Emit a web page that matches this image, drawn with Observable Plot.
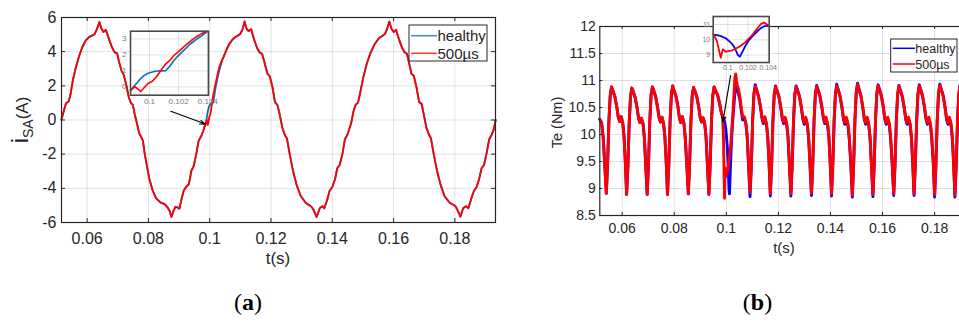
<!DOCTYPE html>
<html><head><meta charset="utf-8">
<script src="https://cdn.jsdelivr.net/npm/d3@7"></script>
<script src="https://cdn.jsdelivr.net/npm/@observablehq/plot@0.6"></script>
<style>
html,body{margin:0;padding:0;background:#fff;}
#wrap{position:relative;width:959px;height:322px;overflow:hidden;}
#wrap svg{position:absolute;}
</style></head><body><div id="wrap"></div>
<script>
// ---------- Panel (a): stator current i_SA (A) ----------
const iaTimeP1 = [0.0516,0.0524,0.0531,0.0540,0.0546,0.0553,0.0562,0.0573,0.0584,0.0595,0.0605,0.0616,0.0625,0.0632,0.0640,0.0646,0.0653,0.0661,0.0671,0.0681,0.0690,0.0698,0.0703,0.0712,0.0719,0.0727,0.0736,0.0743,0.0749,0.0755,0.0763,0.0770,0.0776,0.0782,0.0788,0.0796,0.0803,0.0814,0.0825,0.0839,0.0853,0.0861,0.0869,0.0875,0.0882,0.0888,0.0895,0.0901,0.0908,0.0915,0.0924,0.0932,0.0940,0.0948,0.0956,0.0964,0.0973,0.0979,0.0983];
const iaP1 = [0,0.55,0.98,1.09,1.52,2.3,3.0,3.7,4.26,4.65,4.84,4.94,5.04,5.33,5.74,5.37,5.15,5.28,4.75,4.26,3.96,3.9,3.48,2.89,2.66,2.11,1.33,0.98,0.9,0.35,-0.23,-0.78,-0.98,-1.21,-2.0,-2.77,-3.46,-4.14,-4.59,-4.82,-4.92,-5.08,-5.31,-5.68,-5.31,-5.08,-5.12,-5.2,-4.63,-4.14,-3.9,-3.75,-2.97,-2.68,-2.0,-1.21,-0.92,-0.63,-0.4];
const iaTimeWin = [0.0987,0.0990,0.0993,0.0994,0.0996,0.0999,0.1002,0.1005,0.1008,0.1011,0.1014,0.1017,0.1020,0.1024,0.1028,0.1032,0.1036,0.1040];
const iaHealthyWin = [-0.23,0.1,0.42,0.52,0.69,0.85,0.93,0.99,1.0,1.01,1.3,1.68,1.97,2.33,2.68,2.96,3.2,3.48];
const iaFaultWin = [-0.23,0.02,-0.2,-0.29,-0.09,0.21,0.35,0.65,1.05,1.42,1.66,1.98,2.2,2.55,2.85,3.13,3.33,3.5];
const iaTimeP2 = [0.1046,0.1053,0.1063,0.1075,0.1084,0.1091,0.1100,0.1107,0.1114,0.1120,0.1127,0.1135,0.1145,0.1155,0.1163,0.1171,0.1178,0.1188,0.1196,0.1205,0.1213,0.1221,0.1228,0.1237,0.1246,0.1252,0.1261,0.1272,0.1283,0.1297,0.1313,0.1326,0.1333,0.1340,0.1349,0.1359,0.1368,0.1374,0.1384,0.1391,0.1400,0.1409,0.1416,0.1424,0.1433,0.1441,0.1449,0.1457];
const iaP2 = [3.72,4.04,4.42,4.73,4.86,4.93,5.05,5.3,5.77,5.35,5.2,5.32,4.7,4.2,3.95,3.86,3.42,2.72,2.56,1.9,1.05,0.88,0.35,-0.45,-0.92,-1.07,-2.0,-2.99,-3.77,-4.45,-4.84,-5.0,-5.1,-5.3,-5.68,-5.17,-5.04,-5.17,-4.64,-4.16,-3.92,-3.47,-2.83,-2.63,-2.0,-1.13,-0.88,-0.45];
const iaTimeP3 = [0.1462,0.1469,0.1476,0.1484,0.1490,0.1501,0.1512,0.1525,0.1538,0.1552,0.1563,0.1572,0.1579,0.1586,0.1593,0.1600,0.1608,0.1617,0.1627,0.1636,0.1644,0.1651,0.1658,0.1666,0.1675,0.1683,0.1692,0.1698,0.1707,0.1716,0.1722,0.1731,0.1742,0.1753,0.1766,0.1783,0.1796,0.1802,0.1809,0.1818,0.1827,0.1836,0.1844,0.1853,0.1862,0.1871,0.1879,0.1887,0.1895,0.1903,0.1912,0.1920,0.1927,0.1933];
const iaP3 = [-0.15,0.5,0.88,1.02,1.5,2.48,3.26,3.95,4.43,4.79,4.92,5.04,5.33,5.76,5.35,5.15,5.28,4.75,4.26,3.96,3.86,3.3,2.72,2.58,1.9,1.07,0.92,0.37,-0.45,-0.88,-1.07,-2.0,-2.99,-3.77,-4.45,-4.84,-4.98,-5.04,-5.29,-5.66,-5.17,-5.04,-5.17,-4.64,-4.16,-3.92,-3.47,-2.83,-2.63,-2.0,-1.13,-0.88,-0.55,0.0];

const xTicksA = [0.06,0.08,0.1,0.12,0.14,0.16,0.18];
const xTickLabelsA = ["0.06","0.08","0.1","0.12","0.14","0.16","0.18"];
const yTicksA = [-6,-4,-2,0,2,4,6];
const yTickLabelsA = ["-6","-4","-2","0","2","4","6"];
const insetTicksXA = [0.1,0.102,0.104];
const insetTickLabelsXA = ["0.1","0.102","0.104"];
const insetTicksYA = [0,1,2,3];
const arrowA = [{x1: 0.0873, y1: 0.51, x2: 0.0986, y2: -0.24}];

// ---------- Panel (b): electromagnetic torque Te (Nm) ----------
const teTimePre = [0.0514,0.0521,0.0527,0.0533];
const tePre = [10.28,10.22,9.95,9.45];
const teTimeCyclesPre = [
  [0.0539,0.0544,0.0549,0.0554,0.0559,0.0565,0.0572,0.0579,0.0585,0.0590,0.0596,0.0602,0.0607,0.0612],
  [0.0617,0.0622,0.0627,0.0632,0.0637,0.0643,0.0650,0.0657,0.0663,0.0668,0.0674,0.0680,0.0685,0.0690],
  [0.0696,0.0701,0.0706,0.0711,0.0716,0.0722,0.0729,0.0736,0.0742,0.0747,0.0753,0.0759,0.0764,0.0769],
  [0.0774,0.0779,0.0784,0.0789,0.0794,0.0800,0.0807,0.0814,0.0820,0.0825,0.0831,0.0837,0.0842,0.0848],
  [0.0854,0.0859,0.0864,0.0869,0.0874,0.0880,0.0887,0.0894,0.0900,0.0905,0.0911,0.0917,0.0922,0.0927],
  [0.0933,0.0938,0.0943,0.0948,0.0953,0.0959,0.0966,0.0973,0.0979,0.0983]
];
const teCyclesPre = [
  [8.91,9.45,10.25,10.72,10.88,10.8,10.7,10.52,10.32,10.24,10.33,10.22,9.97,9.5],
  [8.89,9.42,10.22,10.7,10.86,10.79,10.68,10.5,10.3,10.22,10.3,10.2,9.95,9.48],
  [8.89,9.44,10.24,10.73,10.88,10.8,10.69,10.5,10.31,10.23,10.32,10.2,9.96,9.5],
  [8.89,9.43,10.25,10.74,10.9,10.8,10.7,10.52,10.3,10.22,10.33,10.21,9.95,9.46],
  [8.9,9.45,10.24,10.72,10.87,10.79,10.69,10.51,10.3,10.23,10.31,10.2,9.96,9.48],
  [8.89,9.44,10.25,10.72,10.88,10.81,10.74,10.6,10.44,10.37]
];
const teTimeWin = [0.0986,0.0989,0.0991,0.0993,0.0995,0.0998,0.1001,0.1004,0.1007,0.1010,0.1012,0.1015,0.1018,0.1021,0.1024,0.1027,0.1030,0.1033,0.1036,0.1039,0.1042,0.1046,0.1052,0.1058,0.1063,0.1069,0.1075,0.1080,0.1085];
const teHealthyWin = [10.33,10.3,10.28,10.24,10.18,10.1,9.93,9.75,9.45,9.0,8.9,9.3,9.68,9.98,10.2,10.4,10.6,10.78,10.88,10.92,10.84,10.76,10.65,10.42,10.27,10.3,10.2,9.96,9.45];
const teFaultWin = [10.33,9.95,9.4,8.82,9.38,9.22,9.28,9.3,9.4,9.5,9.58,9.72,9.88,10.1,10.3,10.55,10.8,11.05,11.12,11.0,10.92,10.85,10.7,10.48,10.32,10.33,10.22,9.98,9.55];
const teTimeCyclesPost = [
  [0.1091,0.1096,0.1101,0.1106,0.1111,0.1117,0.1124,0.1131,0.1137,0.1142,0.1148,0.1154,0.1159,0.1164],
  [0.1169,0.1174,0.1179,0.1184,0.1189,0.1195,0.1202,0.1209,0.1215,0.1220,0.1226,0.1232,0.1237,0.1242],
  [0.1248,0.1253,0.1258,0.1263,0.1268,0.1274,0.1281,0.1288,0.1294,0.1299,0.1305,0.1311,0.1316,0.1321],
  [0.1327,0.1332,0.1337,0.1342,0.1347,0.1353,0.1360,0.1367,0.1373,0.1378,0.1383,0.1389,0.1394,0.1399],
  [0.1404,0.1409,0.1414,0.1419,0.1424,0.1430,0.1437,0.1444,0.1450,0.1455,0.1461,0.1467,0.1472,0.1478],
  [0.1484,0.1489,0.1494,0.1499,0.1504,0.1510,0.1517,0.1524,0.1530,0.1535,0.1541,0.1547,0.1552,0.1557],
  [0.1563,0.1568,0.1573,0.1578,0.1583,0.1589,0.1596,0.1603,0.1609,0.1614,0.1620,0.1626,0.1631,0.1637],
  [0.1643,0.1648,0.1653,0.1658,0.1663,0.1669,0.1676,0.1683,0.1689,0.1694,0.1700,0.1706,0.1711,0.1716],
  [0.1721,0.1726,0.1731,0.1736,0.1741,0.1747,0.1754,0.1761,0.1767,0.1772,0.1778,0.1784,0.1789,0.1795],
  [0.1800,0.1805,0.1810,0.1815,0.1820,0.1826,0.1833,0.1840,0.1846,0.1851,0.1857,0.1863,0.1868,0.1873],
  [0.1878,0.1883,0.1888,0.1893,0.1898,0.1904,0.1911,0.1918,0.1924,0.1929,0.1934]
];
const teHealthyPost = [
  [8.85,9.4,10.24,10.75,10.92,10.82,10.7,10.52,10.3,10.2,10.3,10.19,9.95,9.48],
  [8.86,9.42,10.25,10.74,10.9,10.81,10.7,10.5,10.29,10.2,10.3,10.18,9.94,9.46],
  [8.86,9.42,10.24,10.74,10.9,10.82,10.71,10.5,10.28,10.19,10.29,10.18,9.94,9.47],
  [8.87,9.43,10.25,10.75,10.91,10.82,10.7,10.5,10.29,10.2,10.3,10.18,9.94,9.46],
  [8.86,9.42,10.24,10.75,10.93,10.83,10.71,10.5,10.28,10.19,10.29,10.18,9.93,9.45],
  [8.84,9.42,10.26,10.78,10.95,10.84,10.72,10.5,10.28,10.19,10.3,10.18,9.93,9.45],
  [8.85,9.42,10.25,10.76,10.92,10.83,10.71,10.5,10.28,10.19,10.29,10.18,9.93,9.45],
  [8.87,9.43,10.25,10.75,10.91,10.82,10.7,10.5,10.28,10.19,10.29,10.18,9.93,9.45],
  [8.87,9.43,10.25,10.75,10.92,10.83,10.71,10.5,10.28,10.19,10.29,10.18,9.93,9.45],
  [8.84,9.42,10.25,10.76,10.93,10.84,10.72,10.5,10.28,10.19,10.29,10.18,9.93,9.45],
  [8.84,9.42,10.25,10.76,10.92,10.83,10.71,10.5,10.28,10.19,10.29]
];
const teFaultPost = [
  [8.93,9.45,10.25,10.74,10.89,10.8,10.7,10.52,10.32,10.23,10.33,10.21,9.97,9.5],
  [8.9,9.45,10.26,10.73,10.88,10.8,10.7,10.52,10.31,10.23,10.32,10.2,9.96,9.5],
  [8.9,9.46,10.25,10.73,10.88,10.8,10.7,10.52,10.31,10.22,10.32,10.2,9.96,9.5],
  [8.91,9.46,10.26,10.74,10.89,10.8,10.7,10.52,10.31,10.23,10.32,10.2,9.96,9.5],
  [8.9,9.45,10.25,10.74,10.9,10.81,10.7,10.52,10.31,10.22,10.32,10.2,9.96,9.5],
  [8.88,9.45,10.27,10.77,10.93,10.82,10.71,10.52,10.3,10.22,10.32,10.2,9.96,9.5],
  [8.89,9.45,10.26,10.75,10.9,10.81,10.7,10.52,10.3,10.22,10.32,10.2,9.96,9.5],
  [8.9,9.46,10.26,10.74,10.89,10.8,10.7,10.52,10.3,10.22,10.32,10.2,9.96,9.5],
  [8.9,9.46,10.26,10.74,10.9,10.81,10.7,10.52,10.3,10.22,10.32,10.2,9.96,9.5],
  [8.88,9.45,10.26,10.75,10.91,10.82,10.71,10.52,10.3,10.22,10.32,10.2,9.96,9.5],
  [8.88,9.45,10.26,10.75,10.9,10.81,10.7,10.52,10.3,10.22,10.32]
];

const xTicksB = [0.06,0.08,0.1,0.12,0.14,0.16,0.18];
const xTickLabelsB = ["0.06","0.08","0.1","0.12","0.14","0.16","0.18"];
const yTicksB = [8.5,9,9.5,10,10.5,11,11.5,12];
const yTickLabelsB = ["8.5","9","9.5","10","10.5","11","11.5","12"];
const insetTicksXB = [0.1,0.102,0.104];
const insetTickLabelsXB = ["0.1","0.102","0.104"];
const insetTicksYB = [9,10,11];
const arrowB = [{x1: 0.10162, y1: 11.09, x2: 0.09866, y2: 10.23}];

const seriesNames = ["healthy", "500\u00b5s"];

// ---------- build tables ----------
const zip = (ts, vs) => ts.map((t, k) => ({t, v: vs[k]}));
const iaHealthy = zip([...iaTimeP1, ...iaTimeWin, ...iaTimeP2, ...iaTimeP3], [...iaP1, ...iaHealthyWin, ...iaP2, ...iaP3]);
const iaFault = zip([...iaTimeP1, ...iaTimeWin, ...iaTimeP2, ...iaTimeP3], [...iaP1, ...iaFaultWin, ...iaP2, ...iaP3]);
const teTimeAll = [...teTimePre, ...teTimeCyclesPre.flat(), ...teTimeWin, ...teTimeCyclesPost.flat()];
const teHealthy = zip(teTimeAll, [...tePre, ...teCyclesPre.flat(), ...teHealthyWin, ...teHealthyPost.flat()]);
const teFault = zip(teTimeAll, [...tePre, ...teCyclesPre.flat(), ...teFaultWin, ...teFaultPost.flat()]);

const FONT = "'Liberation Sans', Arial, Helvetica, sans-serif";
const INK = "#262626";
const GRID = {stroke: "#000", strokeOpacity: 0.12, strokeWidth: 1};
const BLUE_A = "#0072BD", BLUE_B = "#0000FF", RED = "#FF0000";
const lab = (ticks, labels) => d => labels[ticks.indexOf(d)];
const wrap = document.getElementById("wrap");
function place(svg, left, top) { svg.style.left = left + "px"; svg.style.top = top + "px"; wrap.appendChild(svg); return svg; }

function inwardTicks(xt, yt, pw, ph, len) {
  return [
    Plot.ruleX(xt, {stroke: INK, insetTop: ph - len}),
    Plot.ruleX(xt, {stroke: INK, insetBottom: ph - len}),
    Plot.ruleY(yt, {stroke: INK, insetRight: pw - len}),
    Plot.ruleY(yt, {stroke: INK, insetLeft: pw - len})
  ];
}

// ---------- Panel (a) main ----------
{
  const W = 500, H = 250, ml = 61, mr = 5, mt = 17, mb = 28;
  const svg = Plot.plot({
    width: W, height: H, marginLeft: ml, marginRight: mr, marginTop: mt, marginBottom: mb,
    style: {fontFamily: FONT, fontSize: "16px", color: INK, background: "none", overflow: "visible"},
    x: {domain: [0.05163, 0.19326], label: null},
    y: {domain: [-6, 6], label: null},
    marks: [
      Plot.gridX(xTicksA, GRID),
      Plot.gridY(yTicksA, GRID),
      Plot.line(iaHealthy, {x: "t", y: "v", stroke: BLUE_A, strokeWidth: 1.8}),
      Plot.line(iaFault, {x: "t", y: "v", stroke: RED, strokeWidth: 1.8}),
      Plot.arrow(arrowA, {x1: "x1", y1: "y1", x2: "x2", y2: "y2", stroke: "#000", strokeWidth: 1.1, headLength: 8, headAngle: 40}),
      ...inwardTicks(xTicksA, yTicksA, W - ml - mr, H - mt - mb, 4),
      Plot.frame({stroke: INK, strokeWidth: 1.2}),
      Plot.axisX(xTicksA, {anchor: "bottom", tickSize: 0, tickPadding: 10, tickFormat: lab(xTicksA, xTickLabelsA), fontSize: 16}),
      Plot.axisY(yTicksA, {anchor: "left", tickSize: 0, tickPadding: 5, tickFormat: lab(yTicksA, yTickLabelsA), fontSize: 16})
    ]
  });
  const s = d3.select(svg);
  s.append("text").attr("x", (ml + W - mr) / 2).attr("y", 264).attr("text-anchor", "middle")
    .attr("font-size", 17).attr("fill", INK).attr("font-family", FONT).text("t(s)");
  const yl = s.append("text").attr("transform", "translate(28,120) rotate(-90)").attr("text-anchor", "middle")
    .attr("fill", INK).attr("font-family", FONT);
  yl.append("tspan").attr("font-size", 24).text("i");
  yl.append("tspan").attr("font-size", 14).attr("dy", 5).text("SA");
  yl.append("tspan").attr("font-size", 17).attr("dy", -5).text("(A)");
  // legend
  const lg = s.append("g").attr("font-family", FONT).attr("font-size", 15).attr("fill", INK).attr("text-anchor", "start");
  lg.append("rect").attr("x", 409).attr("y", 25).attr("width", 78).attr("height", 36).attr("fill", "#fff").attr("stroke", INK).attr("stroke-width", 1);
  [[BLUE_A, 35.7], [RED, 53.3]].forEach(([c, y], k) => {
    lg.append("line").attr("x1", 411).attr("x2", 437).attr("y1", y).attr("y2", y).attr("stroke", c).attr("stroke-width", 1.6).attr("stroke-opacity", 0.75);
    lg.append("text").attr("x", 437.5).attr("y", y).attr("dy", "0.36em").attr("text-anchor", "start").text(seriesNames[k]);
  });
  place(svg, 0, 0);
}

// ---------- Panel (a) inset ----------
{
  const W = 120, H = 90, ml = 20, mr = 22, mt = 5.7, mb = 20.3;
  const dom = [0.0987, 0.10405];
  const f = d => d.t >= 0.0983 && d.t <= 0.1046;
  const svg = Plot.plot({
    width: W, height: H, marginLeft: ml, marginRight: mr, marginTop: mt, marginBottom: mb,
    style: {fontFamily: FONT, fontSize: "8px", color: "#7a7a7a", background: "none", overflow: "visible"},
    x: {domain: dom, label: null},
    y: {domain: [-0.52, 3.48], label: null},
    marks: [
      Plot.frame({fill: "#fff"}),
      Plot.gridX(insetTicksXA, GRID),
      Plot.gridY(insetTicksYA, GRID),
      Plot.line(iaHealthy.filter(f), {x: "t", y: "v", stroke: BLUE_A, strokeWidth: 1.6, clip: true}),
      Plot.line(iaFault.filter(f), {x: "t", y: "v", stroke: RED, strokeWidth: 1.6, clip: true}),
      Plot.frame({stroke: "#4a4a4a", strokeWidth: 1.6}),
      Plot.axisX(insetTicksXA, {anchor: "bottom", tickSize: 0, tickPadding: 3, tickFormat: lab(insetTicksXA, insetTickLabelsXA)}),
      Plot.axisY(insetTicksYA, {anchor: "left", tickSize: 0, tickPadding: 4})
    ]
  });
  place(svg, 110, 25);
}

// ---------- Panel (b) main ----------
{
  const W = 480, H = 250, ml = 99.3, mr = 11.4, mt = 26, mb = 35;
  const svg = Plot.plot({
    width: W, height: H, marginLeft: ml, marginRight: mr, marginTop: mt, marginBottom: mb,
    style: {fontFamily: FONT, fontSize: "14px", color: INK, background: "none", overflow: "visible"},
    x: {domain: [0.0514, 0.19325], label: null},
    y: {domain: [8.5, 12], label: null},
    marks: [
      Plot.gridX(xTicksB, GRID),
      Plot.gridY(yTicksB, GRID),
      Plot.line(teHealthy, {x: "t", y: "v", stroke: BLUE_B, strokeWidth: 2.9}),
      Plot.line(teFault, {x: "t", y: "v", stroke: RED, strokeWidth: 2.9}),
      Plot.arrow(arrowB, {x1: "x1", y1: "y1", x2: "x2", y2: "y2", stroke: "#000", strokeWidth: 1.1, headLength: 8, headAngle: 40}),
      ...inwardTicks(xTicksB, yTicksB, W - ml - mr, H - mt - mb, 3),
      Plot.frame({stroke: INK, strokeWidth: 1.2}),
      Plot.axisX(xTicksB, {anchor: "bottom", tickSize: 0, tickPadding: 8, tickFormat: lab(xTicksB, xTickLabelsB), fontSize: 14}),
      Plot.axisY(yTicksB, {anchor: "left", tickSize: 0, tickPadding: 4, tickFormat: lab(yTicksB, yTickLabelsB), fontSize: 14})
    ]
  });
  const s = d3.select(svg);
  s.append("text").attr("x", 284).attr("y", 253).attr("text-anchor", "middle")
    .attr("font-size", 15).attr("fill", INK).attr("font-family", FONT).text("t(s)");
  s.append("text").attr("transform", "translate(57,122.5) rotate(-90)").attr("text-anchor", "middle").attr("dy", "0.35em")
    .attr("font-size", 14.5).attr("fill", INK).attr("font-family", FONT).text("Te (Nm)");
  const lg = s.append("g").attr("font-family", FONT).attr("font-size", 12.5).attr("fill", INK).attr("text-anchor", "start");
  lg.append("rect").attr("x", 390.7).attr("y", 39).attr("width", 66.3).attr("height", 33).attr("fill", "#fff").attr("stroke", INK).attr("stroke-width", 1);
  [[BLUE_B, 48.3], [RED, 64]].forEach(([c, y], k) => {
    lg.append("line").attr("x1", 392.7).attr("x2", 415).attr("y1", y).attr("y2", y).attr("stroke", c).attr("stroke-width", 1.5);
    lg.append("text").attr("x", 415.3).attr("y", y).attr("dy", "0.36em").attr("text-anchor", "start").text(seriesNames[k]);
  });
  place(svg, 500, 0);
}

// ---------- Panel (b) inset ----------
{
  const W = 100, H = 75, ml = 22.7, mr = 21.3, mt = 8, mb = 21;
  const f = d => d.t >= 0.0983 && d.t <= 0.1046;
  const svg = Plot.plot({
    width: W, height: H, marginLeft: ml, marginRight: mr, marginTop: mt, marginBottom: mb,
    style: {fontFamily: FONT, fontSize: "7px", color: "#7a7a7a", background: "none", overflow: "visible"},
    x: {domain: [0.09855, 0.1041], label: null},
    y: {domain: [8.52, 11.52], label: null},
    marks: [
      Plot.frame({fill: "#fff"}),
      Plot.gridX(insetTicksXB, GRID),
      Plot.gridY(insetTicksYB, GRID),
      Plot.line(teHealthy.filter(f), {x: "t", y: "v", stroke: BLUE_B, strokeWidth: 1.8, clip: true}),
      Plot.line(teFault.filter(f), {x: "t", y: "v", stroke: RED, strokeWidth: 1.8, clip: true}),
      Plot.frame({stroke: "#4a4a4a", strokeWidth: 1.6}),
      Plot.axisX(insetTicksXB, {anchor: "bottom", tickSize: 0, tickPadding: 3, tickFormat: lab(insetTicksXB, insetTickLabelsXB)}),
      Plot.axisY(insetTicksYB, {anchor: "left", tickSize: 0, tickPadding: 3})
    ]
  });
  place(svg, 690, 8);
}

// ---------- captions ----------
{
  const svg = d3.create("svg").attr("width", 959).attr("height", 322).style("left", "0px").style("top", "0px").node();
  const s = d3.select(svg);
  [["a", 248], ["b", 757.5]].forEach(([c, x]) => {
    const t = s.append("text").attr("x", x).attr("y", 310).attr("text-anchor", "middle")
      .attr("font-family", "'Liberation Serif','DejaVu Serif',serif").attr("font-size", 24).attr("fill", "#000");
    t.append("tspan").text("(");
    t.append("tspan").attr("font-weight", "bold").text(c);
    t.append("tspan").text(")");
  });
  wrap.appendChild(svg);
}
</script></body></html>
